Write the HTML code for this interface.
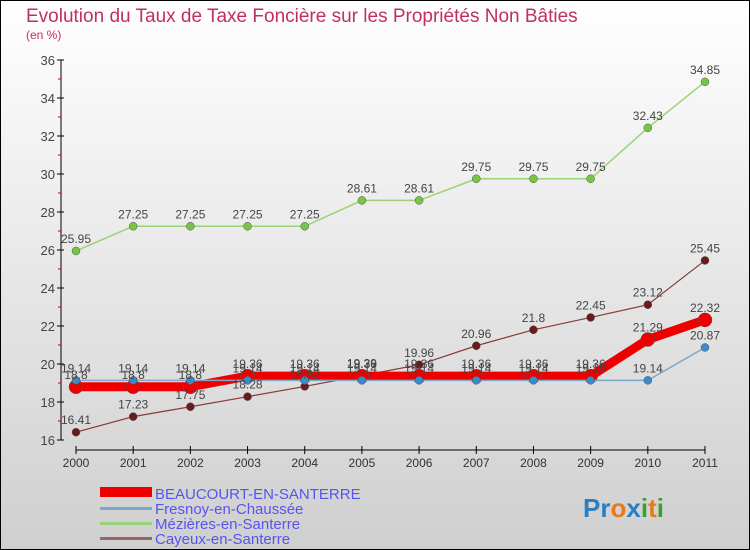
<!DOCTYPE html>
<html><head><meta charset="utf-8"><style>
body{margin:0;}
#c{position:relative;width:750px;height:550px;overflow:hidden;font-family:"Liberation Sans",sans-serif;}
</style></head><body>
<div id="c">
<svg id="s" width="750" height="550" xmlns="http://www.w3.org/2000/svg">
<defs><linearGradient id="bg" x1="0" y1="0" x2="0" y2="1"><stop offset="0" stop-color="#ffffff"/><stop offset="1" stop-color="#cfcfcf"/></linearGradient></defs>
<rect x="0.5" y="0.5" width="749" height="549" fill="url(#bg)" stroke="#000"/>
<text x="26" y="22" font-size="19" fill="#c0305f">Evolution du Taux de Taxe Foncière sur les Propriétés Non Bâties</text>
<text x="26" y="39" font-size="12" fill="#c0305f">(en %)</text>
<g id="axes"></g><g id="series"></g><g id="labels"></g>
<g>
<rect x="100" y="487" width="52" height="10" fill="#ee0000"/>
<text x="155" y="499" font-size="15" fill="#5555ee">BEAUCOURT-EN-SANTERRE</text>
<rect x="100" y="507" width="52" height="3" fill="#7ba7cc"/>
<text x="155" y="514" font-size="15" fill="#5555ee">Fresnoy-en-Chaussée</text>
<rect x="100" y="522" width="52" height="3" fill="#99d277"/>
<text x="155" y="529" font-size="15" fill="#5555ee">Mézières-en-Santerre</text>
<rect x="100" y="537" width="52" height="3" fill="#996666"/>
<text x="155" y="544" font-size="15" fill="#5555ee">Cayeux-en-Santerre</text>
</g>
<text x="583" y="517" font-size="26" font-weight="bold"><tspan fill="#2a7fc0">Pr</tspan><tspan fill="#e87a1a">o</tspan><tspan fill="#2a7fc0">x</tspan><tspan fill="#3aa030">i</tspan><tspan fill="#e87a1a">t</tspan><tspan fill="#3aa030">i</tspan></text>
</svg>
</div>
<script>
const years=["2000","2001","2002","2003","2004","2005","2006","2007","2008","2009","2010","2011"];
const beaucourt=[18.8,18.8,18.8,19.36,19.36,19.36,19.36,19.36,19.36,19.36,21.29,22.32];
const fresnoy=[19.14,19.14,19.14,19.14,19.14,19.14,19.14,19.14,19.14,19.14,19.14,20.87];
const mezieres=[25.95,27.25,27.25,27.25,27.25,28.61,28.61,29.75,29.75,29.75,32.43,34.85];
const cayeux=[16.41,17.23,17.75,18.28,18.82,19.39,19.96,20.96,21.8,22.45,23.12,25.45];
const yTicks=[16,18,20,22,24,26,28,30,32,34,36];
const NS="http://www.w3.org/2000/svg";
function X(i){return 76+i*(705-76)/(years.length-1);}
function Y(v){return 440-(v-16)*19;}
function mk(tag,attrs,parent){const e=document.createElementNS(NS,tag);for(const k in attrs)e.setAttribute(k,attrs[k]);parent.appendChild(e);return e;}
const ax=document.getElementById('axes'),sg=document.getElementById('series'),lg=document.getElementById('labels');
let e=mk('line',{x1:61,y1:Y(36),x2:61,y2:Y(16),stroke:'#000'},ax);


e=mk('line',{x1:X(0),y1:450,x2:X(11),y2:450,stroke:'#000'},ax);


yTicks.forEach(t=>{mk('line',{x1:57,y1:Y(t),x2:64,y2:Y(t),stroke:'#000'},ax);
 if(t<36)mk('line',{x1:58,y1:Y(t+1),x2:61,y2:Y(t+1),stroke:'#d00'},ax);
 const tx=mk('text',{x:55,y:Y(t)+5,'font-size':13,fill:'#444','text-anchor':'end'},ax);tx.textContent=t;
 
 });
years.forEach((y,i)=>{mk('line',{x1:X(i),y1:446,x2:X(i),y2:454,stroke:'#000'},ax);
 const tx=mk('text',{x:X(i),y:467,'font-size':12,fill:'#333','text-anchor':'middle'},ax);tx.textContent=y;
 
 });
function series(vals,color,dot,w,r,name){
 const p=mk('polyline',{points:vals.map((v,i)=>X(i)+','+Y(v)).join(' '),fill:'none',stroke:color,'stroke-width':w},sg);
 
 
 vals.forEach((v,i)=>{const c=mk('circle',{cx:X(i),cy:Y(v),r:r,fill:dot,stroke:'#555','stroke-width':0.5},sg);
  
  
  const t=mk('text',{x:X(i),y:Y(v)-8,'font-size':12,fill:'#444','text-anchor':'middle'},lg);t.textContent=String(v);
  
  });
}
series(cayeux,'#8a3a3a','#6a1a1a',1.2,4,'cayeux');
series(mezieres,'#99d277','#77c544',1.5,4,'mezieres');
series(beaucourt,'#ee0000','#ee0000',9,7,'beaucourt');
series(fresnoy,'#7ba7cc','#3a8acc',1.5,4,'fresnoy');
</script>
</body></html>
